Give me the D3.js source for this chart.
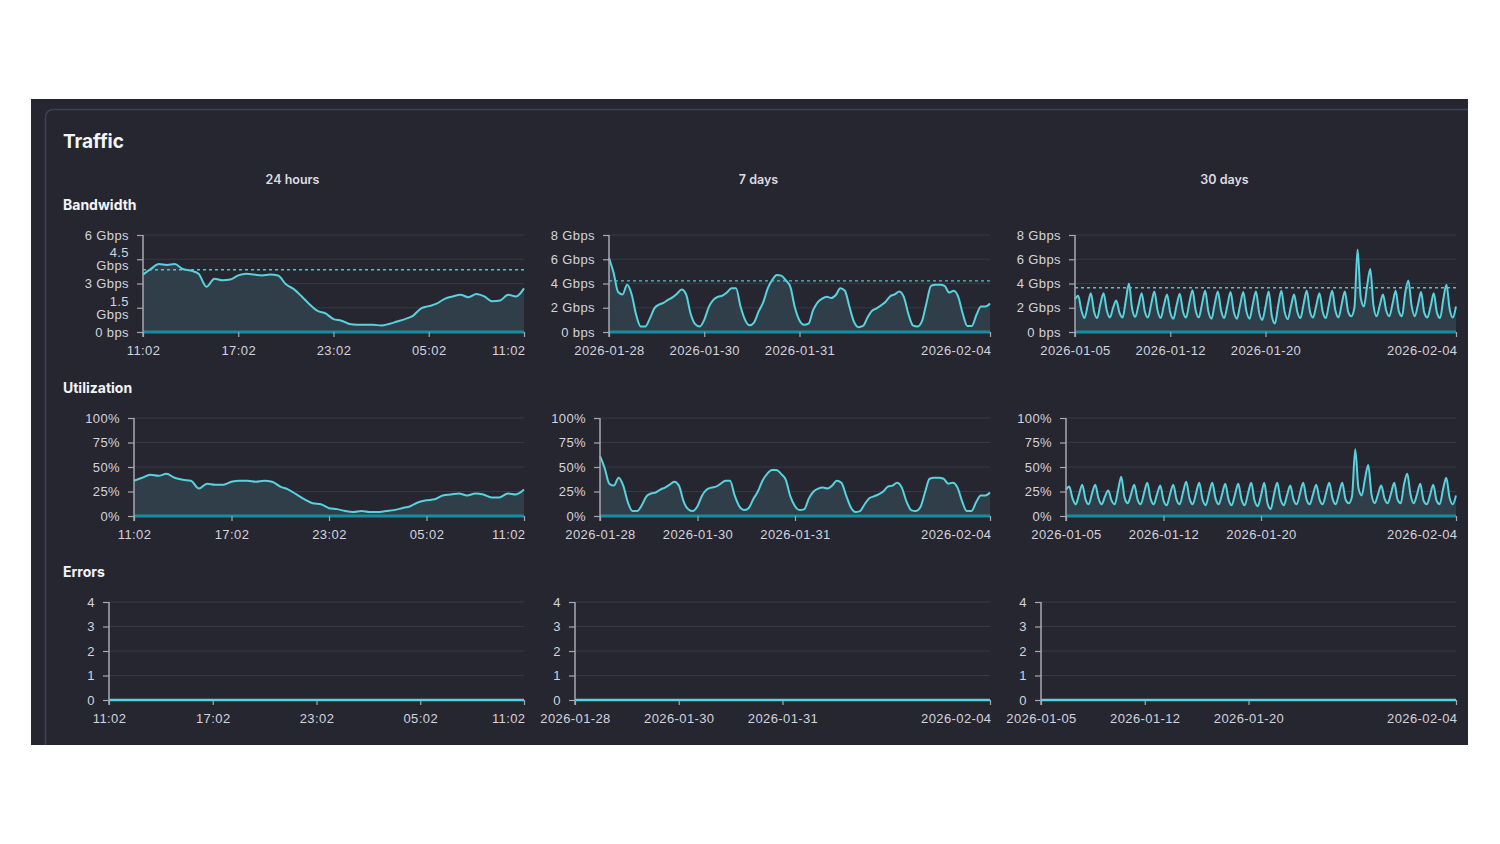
<!DOCTYPE html>
<html lang="en">
<head>
<meta charset="utf-8">
<title>Traffic</title>
<script src="https://cdn.jsdelivr.net/npm/d3@7"></script>
<style>
  body { margin: 0; background: #fff; }
  svg { display: block; font-family: Inter, "Helvetica Neue", Arial, sans-serif; }
  .axis .domain { display: none; }
  .axis .tick line { stroke: #a7a8b0; stroke-width: 1.2; }
  .axis .tick text { fill: #d3d4dc; font-size: 13px; font-weight: 500; letter-spacing: 0.4px; }
</style>
</head>
<body>
<div id="chart"></div>
<script>
// columns
var periods = ["24 hours", "7 days", "30 days"];
var periodSpan = [24, 168, 720];            // hours covered by each column
var xTickPos = [[0, 6, 12, 18, 24], [0, 42, 84, 168], [0, 180, 360, 720]];
var xTickLabels = [
  ["11:02", "17:02", "23:02", "05:02", "11:02"],
  ["2026-01-28", "2026-01-30", "2026-01-31", "2026-02-04"],
  ["2026-01-05", "2026-01-12", "2026-01-20", "2026-02-04"]
];

// bandwidth, Gbps
var bandwidth24h = [3.55,3.9,4.2,4.15,4.2,3.9,3.8,3.6,2.8,3.3,3.2,3.25,3.5,3.6,3.55,3.5,3.55,3.5,2.95,2.65,
  2.2,1.7,1.3,1.15,0.8,0.7,0.5,0.45,0.45,0.45,0.4,0.5,0.65,0.8,1.0,1.45,1.6,1.75,2.05,2.2,
  2.3,2.15,2.35,2.2,1.9,1.95,2.3,2.2,2.7];
var bandwidth7d = [6.1,4.9,3.3,3.1,3.9,3.1,1.4,0.45,0.45,1.1,
  1.95,2.25,2.4,2.65,2.85,3.15,3.5,3.1,1.5,0.65,
  0.45,1.0,2.05,2.65,2.9,3.0,3.25,3.6,3.6,2.1,
  1.0,0.55,0.8,1.7,2.45,3.6,4.3,4.7,4.65,4.25,
  3.7,2.0,0.95,0.6,0.7,1.8,2.45,2.75,2.9,2.8,
  3.05,3.6,3.4,2.1,0.85,0.4,0.5,1.2,1.75,1.95,
  2.2,2.5,2.95,3.1,3.35,2.9,1.5,0.55,0.45,0.9,
  2.4,3.8,3.9,3.9,3.8,3.25,3.4,2.9,1.5,0.5,
  0.5,1.4,2.1,2.1,2.35];
var bandwidth30d = [2.7,3.0,1.8,1.15, 2.2,3.2,1.7,1.15, 2.3,3.2,1.8,1.2, 2.0,2.6,1.6,1.2, 2.6,4.0,1.9,1.25,
  2.2,3.2,1.7,1.2, 2.3,3.35,1.8,1.15, 2.2,3.1,1.6,1.1, 2.2,3.15,1.7,1.2, 2.4,3.45,1.8,1.2,
  2.3,3.4,1.7,1.1, 2.3,3.35,1.8,1.15, 2.2,3.3,1.7,1.1, 2.2,3.3,1.7,1.1, 2.3,3.35,1.6,1.0,
  2.1,3.35,1.3,0.7, 2.2,3.4,1.7,1.05, 2.1,3.1,1.7,1.15, 2.3,3.4,1.7,1.2, 2.2,3.2,1.7,1.15,
  2.3,3.4,1.8,1.2, 2.3,3.35,1.7,1.3, 2.0,6.8,2.8,2.1, 3.8,5.2,2.2,1.3, 2.2,3.1,1.8,1.3,
  2.3,3.4,1.7,1.3, 3.2,4.25,2.2,1.3, 2.2,3.3,1.6,1.2, 2.1,3.2,1.6,1.15, 2.7,3.9,1.9,1.2,
  2.1];
var bandwidthP95 = [3.85, 4.22, 3.65];
var bandwidthMax = [6, 8, 8];
var bandwidthTicks = [[0, 1.5, 3, 4.5, 6], [0, 2, 4, 6, 8], [0, 2, 4, 6, 8]];

// utilization, %
var utilization24h = [36,39,42,41,43,39,37,36,28,33,32,32,35,36,36,35,36,35,30,27,
  22,17,13,12,8,7,5,4,5,4,4,5,6,8,10,14,16,17,21,22,
  23,21,23,22,19,19,23,22,27];
var utilization7d = [61,49,33,31,39,31,14,5,5,11,
  20,23,24,27,29,32,35,31,15,7,
  5,10,21,27,29,30,33,36,36,21,
  10,6,8,17,25,36,43,47,47,43,
  37,20,10,6,7,18,25,28,29,28,
  31,36,34,21,9,4,5,12,18,20,
  22,25,30,31,34,29,15,6,5,9,
  24,38,39,39,38,33,34,29,15,5,
  5,14,21,21,24];
var utilization30d = [27,30,18,12, 22,32,17,12, 23,32,18,12, 20,26,16,12, 26,40,19,13,
  22,32,17,12, 23,34,18,12, 22,31,16,11, 22,32,17,12, 24,35,18,12,
  23,34,17,11, 23,34,18,12, 22,33,17,11, 22,33,17,11, 23,34,16,10,
  21,34,13,7, 22,34,17,11, 21,31,17,12, 23,34,17,12, 22,32,17,12,
  23,34,18,12, 23,34,17,13, 20,68,28,21, 38,52,22,13, 22,31,18,13,
  23,34,17,13, 32,43,22,13, 22,33,16,12, 21,32,16,12, 27,39,19,12,
  21];
var utilizationTicks = [0, 25, 50, 75, 100];

// errors, count
var errors24h = [0, 0, 0, 0, 0];
var errors7d = [0, 0, 0, 0, 0];
var errors30d = [0, 0, 0, 0, 0];
var errorTicks = [0, 1, 2, 3, 4];

var W = 1500, H = 844;
var colLeft = [63, 529, 995], colWidth = 461;

var svg = d3.select("#chart").append("svg")
  .attr("width", W).attr("height", H);

svg.append("rect").attr("width", W).attr("height", H).attr("fill", "#fff");
svg.append("rect")
  .attr("x", 31).attr("y", 99).attr("width", 1437).attr("height", 646)
  .attr("fill", "#262631");
svg.append("path")
  .attr("d", "M45.5,745 L45.5,118 Q45.5,109.5 54,109.5 L1468,109.5")
  .attr("fill", "none").attr("stroke", "#3b4253").attr("stroke-width", 1.5);

svg.append("text").attr("x", 63).attr("y", 148)
  .attr("fill", "#f4f4f6").attr("font-size", 19).attr("font-weight", 700)
  .text("Traffic");

svg.selectAll("text.period").data(periods).join("text")
  .attr("class", "period")
  .attr("x", function(d, i) { return colLeft[i] + colWidth / 2 - 1; })
  .attr("y", 184)
  .attr("text-anchor", "middle")
  .attr("fill", "#dcdce2").attr("font-size", 12.5).attr("font-weight", 600)
  .text(function(d) { return d; });

var rows = [
  { title: "Bandwidth", titleY: 210, top: 235, bottom: 332, margin: 80,
    series: [bandwidth24h, bandwidth7d, bandwidth30d],
    max: bandwidthMax, ticks: bandwidthTicks, p95: bandwidthP95, area: true,
    fmt: function(d) { return d === 0 ? "0 bps" : d + " Gbps"; } },
  { title: "Utilization", titleY: 393, top: 418, bottom: 516, margin: 71,
    series: [utilization24h, utilization7d, utilization30d],
    max: [100, 100, 100], ticks: [utilizationTicks, utilizationTicks, utilizationTicks], area: true,
    fmt: function(d) { return d + "%"; } },
  { title: "Errors", titleY: 577, top: 602, bottom: 700, margin: 46,
    series: [errors24h, errors7d, errors30d],
    max: [4, 4, 4], ticks: [errorTicks, errorTicks, errorTicks], area: false,
    fmt: function(d) { return d; } }
];

rows.forEach(function(row) {
  svg.append("text").attr("x", 63).attr("y", row.titleY)
    .attr("fill", "#f4f4f6").attr("font-size", 14).attr("font-weight", 700)
    .text(row.title);

  for (var c = 0; c < 3; c++) {
    drawChart(svg.append("g"), {
      x0: colLeft[c] + row.margin, x1: colLeft[c] + colWidth,
      y0: row.top, y1: row.bottom,
      span: periodSpan[c], values: row.series[c],
      yMax: row.max[c], yTicks: row.ticks[c], fmt: row.fmt,
      xTicks: xTickPos[c], xLabels: xTickLabels[c],
      p95: row.p95 ? row.p95[c] : null, area: row.area
    });
  }
});

function drawChart(g, o) {
  var x = d3.scaleLinear().domain([0, o.span]).range([o.x0, o.x1]);
  var y = d3.scaleLinear().domain([0, o.yMax]).range([o.y1, o.y0]);
  var step = o.span / (o.values.length - 1);

  // grid
  g.append("g").selectAll("line").data(o.yTicks.slice(1)).join("line")
    .attr("x1", o.x0).attr("x2", o.x1)
    .attr("y1", function(d) { return y(d); }).attr("y2", function(d) { return y(d); })
    .attr("stroke", "#363947").attr("stroke-width", 1);

  if (o.area) {
    var area = d3.area()
      .curve(d3.curveMonotoneX)
      .x(function(d, i) { return x(i * step); })
      .y0(y(0))
      .y1(function(d) { return y(d); });
    g.append("path").datum(o.values)
      .attr("d", area).attr("fill", "#2f3e49");

    g.append("line")
      .attr("x1", o.x0).attr("x2", o.x1)
      .attr("y1", y(0)).attr("y2", y(0))
      .attr("stroke", "#188c9c").attr("stroke-width", 3);
  }

  var line = d3.line()
    .curve(d3.curveMonotoneX)
    .x(function(d, i) { return x(i * step); })
    .y(function(d) { return y(d); });
  g.append("path").datum(o.values)
    .attr("d", line).attr("fill", "none")
    .attr("stroke", "#58d2dd").attr("stroke-width", o.area ? 2 : 2.5);

  if (o.p95 != null) {
    g.append("line")
      .attr("x1", o.x0).attr("x2", o.x1)
      .attr("y1", y(o.p95)).attr("y2", y(o.p95))
      .attr("stroke", "#4fc6d2").attr("stroke-width", 1.4)
      .attr("stroke-dasharray", "3,3");
  }

  // y axis
  var ya = g.append("g").attr("class", "axis")
    .attr("transform", "translate(" + o.x0 + ",0)")
    .call(d3.axisLeft(y).tickValues(o.yTicks).tickFormat(o.fmt).tickSize(6).tickPadding(8));
  ya.selectAll(".tick text").each(function() {
    var t = d3.select(this), s = t.text();
    if (s.indexOf(".") > -1 && s.indexOf(" ") > -1) {
      var parts = s.split(" ");
      t.text(null);
      t.append("tspan").attr("x", -14).attr("dy", "-0.2em").text(parts[0]);
      t.append("tspan").attr("x", -14).attr("dy", "1.0em").text(parts[1]);
    }
  });
  g.append("line")
    .attr("x1", o.x0).attr("x2", o.x0)
    .attr("y1", o.y0).attr("y2", o.y1 + 5)
    .attr("stroke", "#a7a8b0").attr("stroke-width", 1.5);

  // x axis
  var xa = g.append("g").attr("class", "axis")
    .attr("transform", "translate(0," + o.y1 + ")")
    .call(d3.axisBottom(x).tickValues(o.xTicks)
      .tickFormat(function(d, i) { return o.xLabels[i]; })
      .tickSize(5).tickPadding(9));
  xa.selectAll(".tick text").filter(function(d, i, n) { return i === n.length - 1; })
    .attr("text-anchor", "end").attr("dx", "1px");
}
</script>
</body>
</html>
